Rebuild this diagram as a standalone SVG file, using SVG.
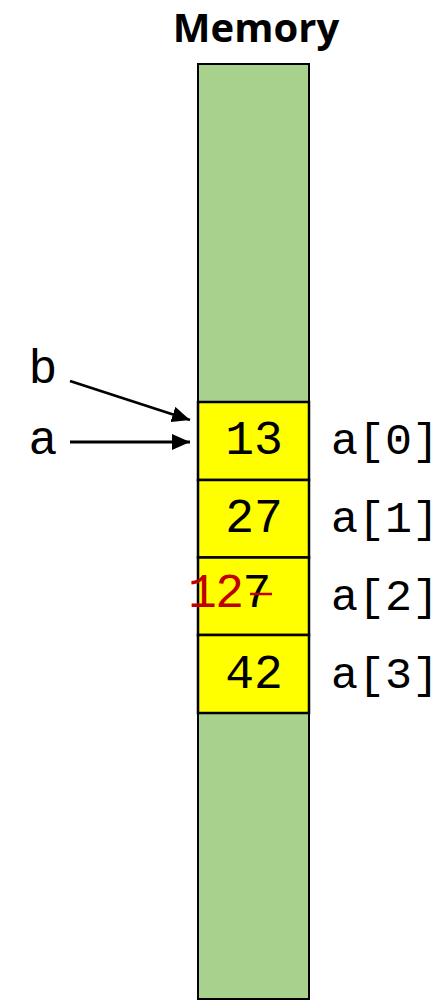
<svg xmlns="http://www.w3.org/2000/svg" width="444" height="1000" viewBox="0 0 444 1000">
<style>
.mono{font-family:"Liberation Mono","Courier New",monospace;font-size:48px;fill:#000}
.lbl{font-size:45px}
.red{fill:#C00000}
.mem{fill:#A9D18E;stroke:#000;stroke-width:2}
.cell{fill:#FFFF00;stroke:#000;stroke-width:2.5}
.conn{stroke:#000;stroke-width:2.8;fill:none;marker-end:url(#ah)}
.title{font-family:"Open Sans","Liberation Sans",sans-serif;font-weight:700;font-size:40px;fill:#000}
</style>
<defs>
<marker id="ah" markerUnits="userSpaceOnUse" markerWidth="18" markerHeight="16" refX="18" refY="8" orient="auto"><path d="M0,0 L18,8 L0,16 z" fill="#000"/></marker>
</defs>
<rect width="444" height="1000" fill="#fff"/>
<g id="title"><text class="title" x="256" y="42" text-anchor="middle">Memory</text></g>
<g id="memory"><rect class="mem" x="198" y="64" width="111" height="935"/></g>
<g id="cell0"><rect class="cell" x="198" y="402" width="111" height="78"/><text class="mono" x="254" y="454" text-anchor="middle">13</text></g>
<g id="cell1"><rect class="cell" x="198" y="480" width="111" height="77.5"/><text class="mono" x="254" y="532" text-anchor="middle">27</text></g>
<g id="cell2"><rect class="cell" x="198" y="557.5" width="111" height="77.5"/><text class="mono red" x="188" y="607" letter-spacing="-1.5">12</text><text class="mono" x="257" y="607" text-anchor="middle">7</text><line x1="250" y1="594" x2="272" y2="594" stroke="#C00000" stroke-width="2.5"/></g>
<g id="cell3"><rect class="cell" x="198" y="635" width="111" height="78"/><text class="mono" x="254" y="688" text-anchor="middle">42</text></g>
<g id="labels">
<text class="mono lbl" x="331" y="454">a[0]</text>
<text class="mono lbl" x="331" y="532">a[1]</text>
<text class="mono lbl" x="331" y="610">a[2]</text>
<text class="mono lbl" x="331" y="688">a[3]</text>
</g>
<g id="var-b"><text class="mono" x="43" y="383" text-anchor="middle">b</text></g>
<g id="var-a"><text class="mono" x="43" y="454" text-anchor="middle">a</text></g>
<g id="connectors">
<path class="conn" d="M70,381 L190,420"/>
<path class="conn" d="M70,442 L190,442"/>
</g>
</svg>
